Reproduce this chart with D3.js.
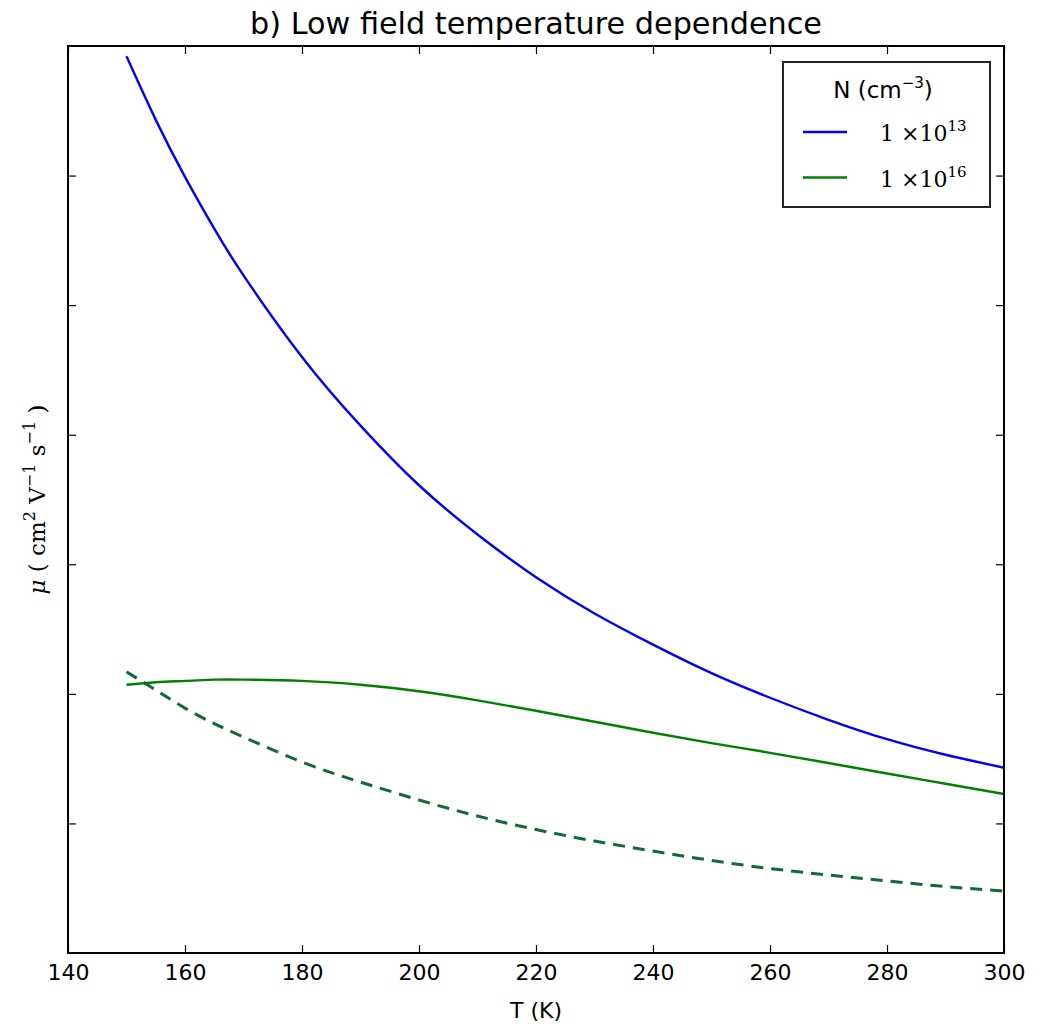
<!DOCTYPE html>
<html>
<head>
<meta charset="utf-8">
<script src="https://cdn.jsdelivr.net/npm/d3@7"></script>
<style>
  html, body { margin: 0; padding: 0; background: #fff; }
  svg { display: block; }
  .tick text { font-family: "DejaVu Sans", sans-serif; }
</style>
</head>
<body>
<div id="chart"></div>
<script>
// Temperature grid (K)
const temperature = [150, 155, 160, 165, 170, 180, 190, 200, 210, 220, 230, 240, 250, 260, 270, 280, 290, 300];

// Mobility, N = 1e13 cm^-3 (arbitrary units along the unlabelled y axis)
const mobilityN13 = [6.92, 6.43, 5.99, 5.59, 5.23, 4.60, 4.07, 3.61, 3.23, 2.90, 2.62, 2.38, 2.16, 1.97, 1.80, 1.65, 1.53, 1.43];

// Mobility, N = 1e16 cm^-3 (solid)
const mobilityN16 = [2.07, 2.09, 2.10, 2.11, 2.11, 2.10, 2.07, 2.02, 1.95, 1.87, 1.785, 1.70, 1.62, 1.545, 1.466, 1.385, 1.306, 1.227];

// Mobility, N = 1e16 cm^-3 (dashed companion curve)
const mobilityN16b = [2.17, 2.03, 1.89, 1.77, 1.667, 1.474, 1.319, 1.181, 1.057, 0.953, 0.864, 0.787, 0.714, 0.652, 0.602, 0.556, 0.513, 0.478];

const xTicks = [140, 160, 180, 200, 220, 240, 260, 280, 300];
const yTicks = [1, 2, 3, 4, 5, 6];

const W = 1051, H = 1028;
const margin = { left: 68, right: 47, top: 46, bottom: 75 };
const plotW = W - margin.left - margin.right;
const plotH = H - margin.top - margin.bottom;

const svg = d3.select("#chart").append("svg")
  .attr("width", W).attr("height", H);

const x = d3.scaleLinear().domain([140, 300]).range([0, plotW]);
const y = d3.scaleLinear().domain([0, 7]).range([plotH, 0]);

const g = svg.append("g").attr("transform", `translate(${margin.left},${margin.top})`);

// Curves
const line = (vals) => d3.line()
  .x((d, i) => x(temperature[i]))
  .y(d => y(d))
  .curve(d3.curveNatural)(vals);

g.append("path").attr("d", line(mobilityN13))
  .attr("fill", "none").attr("stroke", "#0000ff").attr("stroke-width", 2.4);
g.append("path").attr("d", line(mobilityN16))
  .attr("fill", "none").attr("stroke", "#008000").attr("stroke-width", 2.4);
g.append("path").attr("d", line(mobilityN16b))
  .attr("fill", "none").attr("stroke", "#0e6b35").attr("stroke-width", 3)
  .attr("stroke-dasharray", "12,8");

// Axes: ticks point inward on all four sides
const tickStyle = sel => {
  sel.select(".domain").remove();
  sel.selectAll(".tick line").attr("stroke", "#000").attr("stroke-width", 1.2);
};

g.append("g").attr("transform", `translate(0,${plotH})`)
  .call(d3.axisBottom(x).tickValues(xTicks).tickSize(-8).tickPadding(11))
  .call(tickStyle)
  .selectAll("text").attr("font-size", 22).attr("fill", "#000");

g.append("g")
  .call(d3.axisTop(x).tickValues(xTicks).tickSize(-8).tickFormat(""))
  .call(tickStyle);

g.append("g")
  .call(d3.axisLeft(y).tickValues(yTicks).tickSize(-8).tickFormat(""))
  .call(tickStyle);

g.append("g").attr("transform", `translate(${plotW},0)`)
  .call(d3.axisRight(y).tickValues(yTicks).tickSize(-8).tickFormat(""))
  .call(tickStyle);

// Frame
g.append("rect").attr("width", plotW).attr("height", plotH)
  .attr("fill", "none").attr("stroke", "#000").attr("stroke-width", 2);

// Title
svg.append("text")
  .attr("x", margin.left + plotW / 2).attr("y", 34)
  .attr("text-anchor", "middle")
  .attr("font-family", "DejaVu Sans, sans-serif")
  .attr("font-size", 30)
  .attr("textLength", 572).attr("lengthAdjust", "spacingAndGlyphs")
  .text("b) Low field temperature dependence");

// X label
svg.append("text")
  .attr("x", margin.left + plotW / 2).attr("y", 1018)
  .attr("text-anchor", "middle")
  .attr("font-family", "DejaVu Sans, sans-serif")
  .attr("font-size", 22)
  .text("T (K)");

// Y label
const yl = svg.append("text")
  .attr("transform", `translate(45,${margin.top + plotH / 2}) rotate(-90)`)
  .attr("text-anchor", "middle")
  .attr("font-family", "DejaVu Serif, serif")
  .attr("font-size", 23);
yl.append("tspan").attr("font-style", "italic").text("μ");
yl.append("tspan").text(" ( cm");
yl.append("tspan").attr("font-size", 16).attr("dy", -10).text("2");
yl.append("tspan").attr("dy", 10).text(" V");
yl.append("tspan").attr("font-size", 16).attr("dy", -10).text("−1");
yl.append("tspan").attr("dy", 10).text(" s");
yl.append("tspan").attr("font-size", 16).attr("dy", -10).text("−1");
yl.append("tspan").attr("dy", 10).text(" )");

// Legend
const legendLabels = ["13", "16"];
const legendColors = ["#0000ff", "#008000"];
const lg = svg.append("g").attr("transform", "translate(783,62)");
lg.append("rect").attr("width", 207).attr("height", 145)
  .attr("fill", "#fff").attr("stroke", "#222").attr("stroke-width", 2);
const lt = lg.append("text").attr("x", 100).attr("y", 36)
  .attr("text-anchor", "middle")
  .attr("font-family", "DejaVu Sans, sans-serif").attr("font-size", 23);
lt.append("tspan").text("N (cm");
lt.append("tspan").attr("font-size", 15).attr("dy", -10).text("−3");
lt.append("tspan").attr("dy", 10).text(")");

legendLabels.forEach((exp, i) => {
  const yy = 70 + i * 45.5;
  lg.append("line").attr("x1", 20).attr("x2", 64).attr("y1", yy).attr("y2", yy)
    .attr("stroke", legendColors[i]).attr("stroke-width", 2.4);
  const t = lg.append("text").attr("x", 97).attr("y", yy + 9)
    .attr("font-family", "DejaVu Serif, serif").attr("font-size", 22);
  t.append("tspan").text("1 ×10");
  t.append("tspan").attr("font-size", 15).attr("dy", -10).text(exp);
});
</script>
</body>
</html>
